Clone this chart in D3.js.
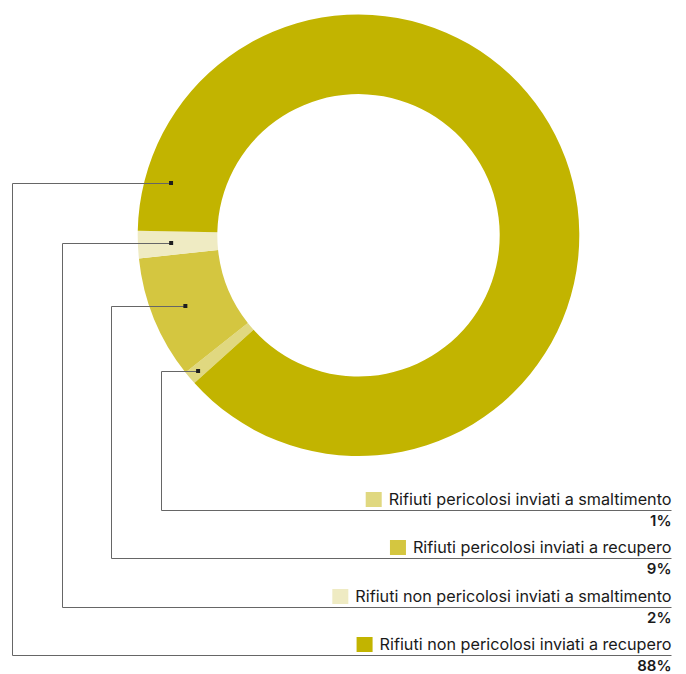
<!DOCTYPE html>
<html>
<head>
<meta charset="utf-8">
<script src="https://cdn.jsdelivr.net/npm/d3@7"></script>
<style>
  html, body { margin: 0; padding: 0; background: #fff; }
  svg { display: block; font-family: Inter, "Noto Sans", sans-serif; }
</style>
</head>
<body>
<svg id="chart" width="686" height="674"></svg>
<script>
// Waste streams, in drawing order (clockwise) and legend order (top to bottom)
const categories = [
  "Rifiuti pericolosi inviati a smaltimento",
  "Rifiuti pericolosi inviati a recupero",
  "Rifiuti non pericolosi inviati a smaltimento",
  "Rifiuti non pericolosi inviati a recupero"
];
const values = [1, 9, 2, 88];
const valueLabels = ["1%", "9%", "2%", "88%"];
const colors = ["#e0d880", "#d4c640", "#efebc3", "#c2b400"];

// Layout
const W = 686, H = 674;
const cx = 358.5, cy = 235.3, outerR = 220.8, innerR = 141.2;
const startDeg = 228;
const rightEdge = 671.5;
const legendTop = 509.5, legendStep = 48.5;
const leaderX = [161.5, 111.5, 62.5, 12.5];      // vertical drop of each leader
const anchorFrac = [0.5, 0.5, 0.5, 0.045];        // where along the slice the leader starts
const anchorR = [210, 187, 187.5, 194.5];

const svg = d3.select("#chart");
const rad = d => d * Math.PI / 180;

const pie = d3.pie().sort(null).value(d => d)
  .startAngle(rad(startDeg)).endAngle(rad(startDeg + 360));
const arcs = pie(values);
const arc = d3.arc().innerRadius(innerR).outerRadius(outerR);

const g = svg.append("g").attr("transform", `translate(${cx},${cy})`);
g.selectAll("path.slice").data(arcs).join("path")
  .attr("class", "slice")
  .attr("d", arc)
  .attr("fill", (d, i) => colors[i]);

// Legend rows: y of the rule under each label
const rowY = d3.scaleLinear().domain([0, 1]).range([legendTop, legendTop + legendStep]);

const leaders = svg.append("g");
arcs.forEach((a, i) => {
  const ang = a.startAngle + (a.endAngle - a.startAngle) * anchorFrac[i];
  const ax = cx + anchorR[i] * Math.sin(ang);
  const ay = Math.round(cy - anchorR[i] * Math.cos(ang)) + 0.5;
  const ly = Math.round(rowY(i)) + 0.5;
  leaders.append("path")
    .attr("d", `M${ax},${ay}H${leaderX[i]}V${ly}H${rightEdge}`)
    .attr("fill", "none")
    .attr("stroke", "#666")
    .attr("stroke-width", 1);
  leaders.append("rect")
    .attr("x", ax - 2).attr("y", ay - 2.5)
    .attr("width", 4).attr("height", 4)
    .attr("fill", "#1e1e1e");
});

// Legend labels, swatches and percentages
const legend = svg.append("g");
categories.forEach((c, i) => {
  const ly = Math.round(rowY(i)) + 0.5;
  const t = legend.append("text")
    .attr("x", rightEdge).attr("y", ly - 6)
    .attr("text-anchor", "end")
    .attr("font-size", 16.2)
    .attr("fill", "#1a1a1a")
    .text(c);
  const bb = t.node().getBBox();
  legend.append("rect")
    .attr("x", bb.x - 7 - 16).attr("y", ly - 18.5)
    .attr("width", 16).attr("height", 15)
    .attr("fill", colors[i]);
  legend.append("text")
    .attr("x", rightEdge).attr("y", ly + 15.5)
    .attr("text-anchor", "end")
    .attr("font-size", 15)
    .attr("font-weight", 600)
    .attr("fill", "#1a1a1a")
    .text(valueLabels[i]);
});
</script>
</body>
</html>
